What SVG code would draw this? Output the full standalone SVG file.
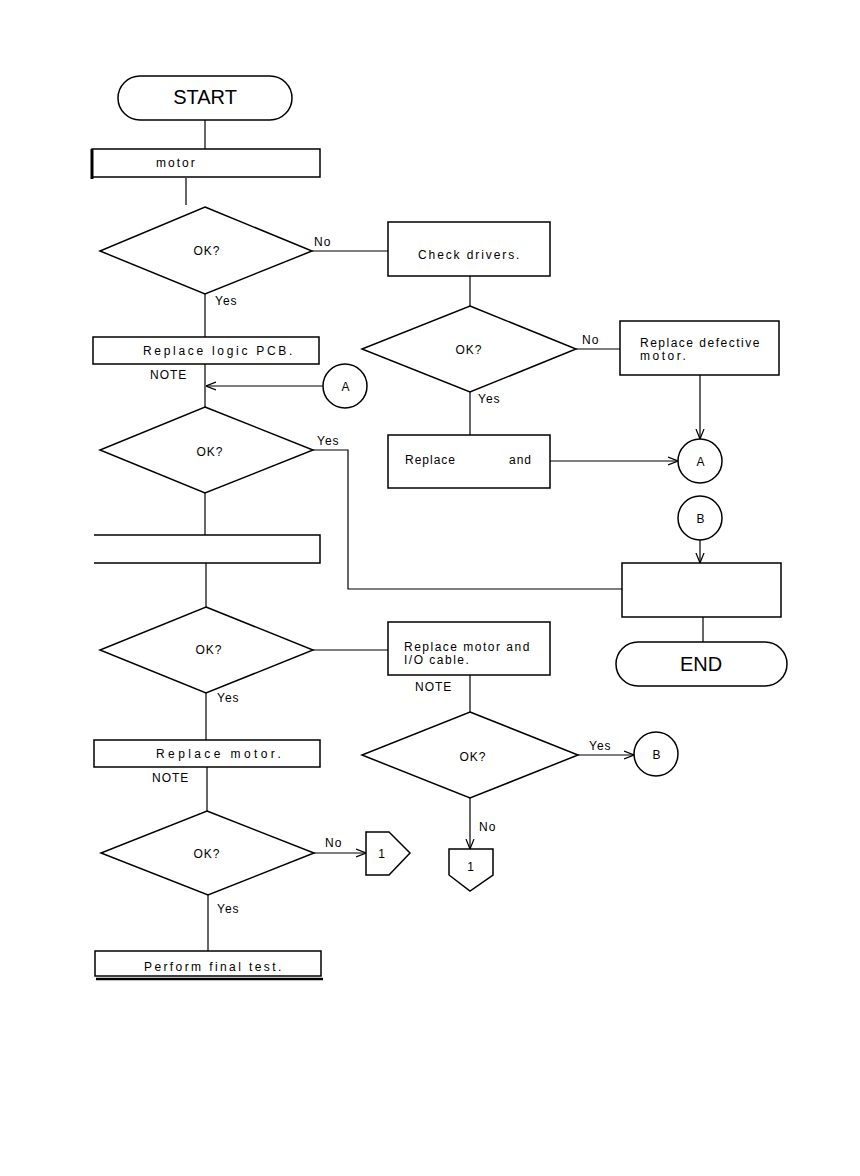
<svg xmlns="http://www.w3.org/2000/svg" width="860" height="1176" viewBox="0 0 860 1176">
<defs>
<marker id="ar" viewBox="0 0 10 10" refX="10" refY="5" markerWidth="10" markerHeight="10" markerUnits="userSpaceOnUse" orient="auto">
<path d="M0,1 L10,5 L0,9" fill="none" stroke="#000" stroke-width="1.2"/>
</marker>
<style>
.s{fill:#fff;stroke:#000;stroke-width:1.5}
.l{fill:none;stroke:#000;stroke-width:1.2}
.t{font-family:"Liberation Sans",Arial,sans-serif;font-size:12px;letter-spacing:1px;fill:#000}
.c{text-anchor:middle}
.big{font-family:"Liberation Sans",Arial,sans-serif;font-size:20px;fill:#000;text-anchor:middle}
</style>
</defs>
<rect width="860" height="1176" fill="#fff"/>
<g id="connectors">
<path class="l" d="M205,120 V149"/>
<path class="l" d="M186,178 V205"/>
<path class="l" d="M312,251 H388"/>
<path class="l" d="M205,294 V337"/>
<path class="l" d="M470,276 V306"/>
<path class="l" d="M576,349 H620"/>
<path class="l" d="M470,392 V436"/>
<path class="l" d="M700,375 V439" marker-end="url(#ar)"/>
<path class="l" d="M205,364 V407"/>
<path class="l" d="M323,386 H206" marker-end="url(#ar)"/>
<path class="l" d="M313,450 H348 V589 H622"/>
<path class="l" d="M550,461 H678" marker-end="url(#ar)"/>
<path class="l" d="M700,540 V563" marker-end="url(#ar)"/>
<path class="l" d="M703,617 V642"/>
<path class="l" d="M205,493 V536"/>
<path class="l" d="M206,563 V607"/>
<path class="l" d="M313,650 H388"/>
<path class="l" d="M470,675 V712"/>
<path class="l" d="M578,755 H634" marker-end="url(#ar)"/>
<path class="l" d="M470,798 V849" marker-end="url(#ar)"/>
<path class="l" d="M206,693 V740"/>
<path class="l" d="M207,767 V811"/>
<path class="l" d="M314,853 H366" marker-end="url(#ar)"/>
<path class="l" d="M208,895 V951"/>
<text class="t" x="314" y="246">No</text>
<text class="t" x="215" y="305">Yes</text>
<text class="t" x="582" y="344">No</text>
<text class="t" x="478" y="403">Yes</text>
<text class="t" x="317" y="445">Yes</text>
<text class="t" x="217" y="702">Yes</text>
<text class="t" x="589" y="750">Yes</text>
<text class="t" x="479" y="831">No</text>
<text class="t" x="325" y="847">No</text>
<text class="t" x="217" y="913">Yes</text>
</g>
<g id="start"><rect class="s" x="118" y="76" width="174" height="44" rx="22"/><text class="big" x="205" y="104">START</text></g>
<g id="motor"><rect class="s" x="92" y="149" width="228" height="28"/><path d="M92,149 V179" stroke="#000" stroke-width="3"/><text class="t" x="156" y="167" style="letter-spacing:2px">motor</text></g>
<g id="d1"><polygon class="s" points="205,207 312,251 205,294 100,251"/><text class="t c" x="207" y="255">OK?</text></g>
<g id="check"><rect class="s" x="388" y="222" width="162" height="54"/><text class="t" x="418" y="259" style="letter-spacing:1.9px">Check drivers.</text></g>
<g id="d2"><polygon class="s" points="470,306 576,349 470,392 362,349"/><text class="t c" x="469" y="354">OK?</text></g>
<g id="repdef"><rect class="s" x="620" y="321" width="159" height="54"/><text class="t" x="640" y="347" style="letter-spacing:1.5px">Replace defective</text><text class="t" x="640" y="360" style="letter-spacing:2.5px">motor.</text></g>
<g id="logic"><rect class="s" x="93" y="337" width="226" height="27"/><text class="t" x="143" y="355" style="letter-spacing:2.7px">Replace logic PCB.</text><text class="t" x="150" y="379">NOTE</text></g>
<g id="cA1"><circle class="s" cx="345" cy="386" r="22"/><text class="t c" x="346" y="391">A</text></g>
<g id="d3"><polygon class="s" points="205,407 313,450 205,493 100,450"/><text class="t c" x="210" y="456">OK?</text></g>
<g id="repand"><rect class="s" x="388" y="435" width="162" height="53"/><text class="t" x="405" y="464">Replace</text><text class="t" x="509" y="464">and</text></g>
<g id="cA2"><circle class="s" cx="700" cy="461" r="22"/><text class="t c" x="701" y="466">A</text></g>
<g id="cB1"><circle class="s" cx="700" cy="518" r="22"/><text class="t c" x="701" y="523">B</text></g>
<g id="blank2"><rect class="s" x="622" y="563" width="159" height="54"/></g>
<g id="end"><rect class="s" x="616" y="642" width="171" height="44" rx="22"/><text class="big" x="701" y="671">END</text></g>
<g id="blank1"><path class="s" d="M94,535 H320 V563 H94"/></g>
<g id="d4"><polygon class="s" points="206,607 313,650 206,693 100,650"/><text class="t c" x="209" y="654">OK?</text></g>
<g id="repio"><rect class="s" x="388" y="622" width="162" height="53"/><text class="t" x="404" y="651" style="letter-spacing:1.5px">Replace motor and</text><text class="t" x="404" y="664" style="letter-spacing:1.5px">I/O cable.</text><text class="t" x="415" y="691">NOTE</text></g>
<g id="d5"><polygon class="s" points="470,712 578,755 470,798 362,755"/><text class="t c" x="473" y="761">OK?</text></g>
<g id="cB2"><circle class="s" cx="656" cy="754" r="22"/><text class="t c" x="657" y="759">B</text></g>
<g id="off1"><polygon class="s" points="449,849 493,849 493,875 470,891 449,875"/><text class="t c" x="471" y="871">1</text></g>
<g id="repmotor"><rect class="s" x="94" y="740" width="226" height="27"/><text class="t" x="156" y="758" style="letter-spacing:3.4px">Replace motor.</text><text class="t" x="152" y="782">NOTE</text></g>
<g id="d6"><polygon class="s" points="207,811 314,853 208,895 101,853"/><text class="t c" x="207" y="858">OK?</text></g>
<g id="off2"><polygon class="s" points="366,832 389,832 410,853 389,875 366,875"/><text class="t c" x="382" y="858">1</text></g>
<g id="final"><rect class="s" x="95" y="951" width="226" height="25"/><path d="M96,979 H323" stroke="#000" stroke-width="2.5"/><text class="t" x="144" y="971" style="letter-spacing:2.4px">Perform final test.</text></g>
</svg>
